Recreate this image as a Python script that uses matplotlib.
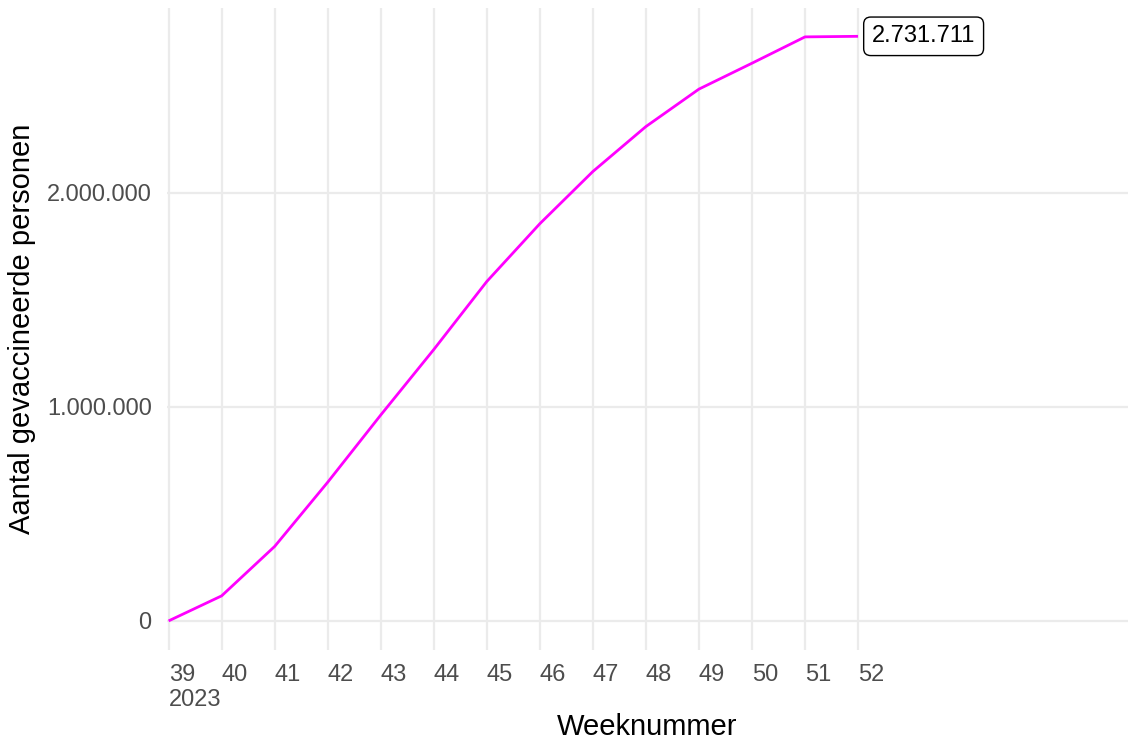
import matplotlib.pyplot as plt
from matplotlib.ticker import FuncFormatter

# Weekly cumulative vaccinations (autumn round 2023)
weeks = [39, 40, 41, 42, 43, 44, 45, 46, 47, 48, 49, 50, 51, 52]
vaccinated = [0, 117000, 348000, 648000, 962000, 1268000, 1586000, 1856000,
              2100000, 2310000, 2485000, 2606000, 2729000, 2731711]
week_labels = ["39\n2023"] + [str(w) for w in weeks[1:]]
y_ticks = [0, 1000000, 2000000]

plt.rcParams['font.family'] = ['Liberation Sans', 'DejaVu Sans']


def dutch_thousands(v, pos=None):
    return f"{int(round(v)):,}".replace(",", ".")


fig = plt.figure(figsize=(11.28, 7.42), dpi=100)
ax = fig.add_axes([167 / 1128, 1 - 650 / 742, 1 - 167 / 1128, (650 - 8) / 742])

ax.plot(weeks, vaccinated, color='#FF00FF', linewidth=2, zorder=3, solid_capstyle='butt')

# label at the last point
ax.annotate(dutch_thousands(vaccinated[-1]), xy=(weeks[-1], vaccinated[-1]),
            xytext=(10, 0), textcoords='offset points', ha='left', va='center',
            fontsize=17, color='black',
            bbox=dict(boxstyle='round,pad=0.35,rounding_size=0.3', fc='white', ec='black', lw=1))

ax.set_xlim(38.97, 57.09)
ax.set_ylim(-136000, 2864000)
ax.set_xticks(weeks)
ax.set_xticklabels(week_labels, ha='left')
ax.set_yticks(y_ticks)
ax.yaxis.set_major_formatter(FuncFormatter(dutch_thousands))

ax.grid(True, color='#EBEBEB', linewidth=1.6)
ax.set_axisbelow(True)
for s in ax.spines.values():
    s.set_visible(False)
ax.tick_params(axis='both', length=0, labelsize=17, labelcolor='#4D4D4D')
ax.tick_params(axis='x', pad=10)
ax.tick_params(axis='y', pad=11)

ax.set_xlabel('Weeknummer', fontsize=21, labelpad=1)
ax.set_ylabel('Aantal gevaccineerde personen', fontsize=21, labelpad=8)

fig.savefig('out.png', dpi=100, facecolor='white')
